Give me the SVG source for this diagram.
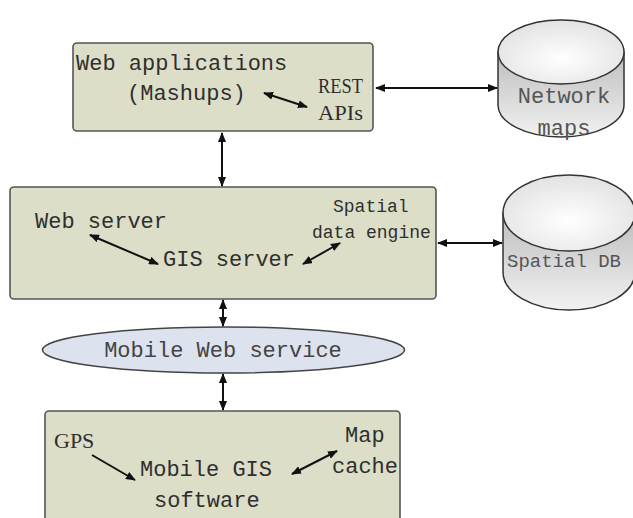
<svg xmlns="http://www.w3.org/2000/svg" width="633" height="518" viewBox="0 0 633 518">
  <defs>
    <marker id="arr" viewBox="0 0 10 8" refX="9" refY="4" markerWidth="10" markerHeight="8" markerUnits="userSpaceOnUse" orient="auto-start-reverse">
      <path d="M0,0 L10,4 L0,8 z" fill="#111"/>
    </marker>
    <linearGradient id="side" x1="0" y1="0" x2="0" y2="1">
      <stop offset="0" stop-color="#bdbdbd"/>
      <stop offset="1" stop-color="#f2f2f2"/>
    </linearGradient>
    <radialGradient id="lid" cx="0.5" cy="0.6" r="0.6">
      <stop offset="0" stop-color="#ffffff"/>
      <stop offset="1" stop-color="#e2e2e2"/>
    </radialGradient>
    <style>
      .box { fill: #dcdec8; stroke: #555; stroke-width: 1.6; }
      .mono { font-family: "Liberation Mono", "DejaVu Sans Mono", monospace; font-size: 22px; fill: #2f2f2f; }
      .small { font-size: 18px; }
      .serif { font-family: "Liberation Serif", "DejaVu Serif", serif; font-size: 22px; fill: #2f2f2f; }
      .cyl { stroke: #333; stroke-width: 1.5; }
      .cyltext { font-family: "Liberation Mono", "DejaVu Sans Mono", monospace; font-size: 22px; fill: #555; }
      .dbtext { font-size: 19px; }
      .link { stroke: #111; stroke-width: 2; fill: none; }
    </style>
  </defs>

  <g id="web-applications">
    <rect class="box" x="73" y="43" width="300" height="88" rx="4"/>
    <text class="mono" x="76" y="70">Web applications</text>
    <text class="mono" x="127" y="100">(Mashups)</text>
    <text class="serif" x="318" y="93" textLength="45" lengthAdjust="spacingAndGlyphs">REST</text>
    <text class="serif" x="318" y="120" textLength="45" lengthAdjust="spacingAndGlyphs">APIs</text>
  </g>

  <g id="network-maps">
    <path class="cyl" d="M498,52 L498,105 A63,32 0 0 0 624,105 L624,52 z" fill="url(#side)"/>
    <ellipse class="cyl" cx="561" cy="52" rx="63" ry="32" fill="url(#lid)"/>
    <text class="cyltext" x="564" y="103" text-anchor="middle">Network</text>
    <text class="cyltext" x="564" y="135" text-anchor="middle">maps</text>
  </g>

  <g id="server-tier">
    <rect class="box" x="10" y="187" width="426" height="112" rx="4"/>
    <text class="mono" x="35" y="228">Web server</text>
    <text class="mono" x="163" y="266">GIS server</text>
    <text class="mono small" x="333" y="212">Spatial</text>
    <text class="mono small" x="312" y="238">data engine</text>
  </g>

  <g id="spatial-db">
    <path class="cyl" d="M503,213 L503,272 A66,38 0 0 0 635,272 L635,213 z" fill="url(#side)"/>
    <ellipse class="cyl" cx="569" cy="213" rx="66" ry="38" fill="url(#lid)"/>
    <text class="cyltext dbtext" x="507" y="267">Spatial DB</text>
  </g>

  <g id="mobile-web-service">
    <ellipse cx="223.5" cy="350" rx="181" ry="23" fill="#dde3ee" stroke="#444" stroke-width="1.5"/>
    <text class="mono" x="223" y="357" text-anchor="middle" style="fill:#444">Mobile Web service</text>
  </g>

  <g id="mobile-client">
    <rect class="box" x="45" y="411" width="355" height="125" rx="4"/>
    <text class="serif" x="54" y="448">GPS</text>
    <text class="mono" x="140" y="476">Mobile GIS</text>
    <text class="mono" x="154" y="507">software</text>
    <text class="mono" x="345" y="442">Map</text>
    <text class="mono" x="332" y="473">cache</text>
  </g>

  <g id="connectors">
    <line class="link" x1="264" y1="93" x2="307" y2="107" marker-start="url(#arr)" marker-end="url(#arr)"/>
    <line class="link" x1="376" y1="88" x2="497" y2="88" marker-start="url(#arr)" marker-end="url(#arr)"/>
    <line class="link" x1="222" y1="133" x2="222" y2="186" marker-start="url(#arr)" marker-end="url(#arr)"/>
    <line class="link" x1="90" y1="235" x2="158" y2="264" marker-start="url(#arr)" marker-end="url(#arr)"/>
    <line class="link" x1="303" y1="264" x2="340" y2="243" marker-start="url(#arr)" marker-end="url(#arr)"/>
    <line class="link" x1="438" y1="243" x2="502" y2="243" marker-start="url(#arr)" marker-end="url(#arr)"/>
    <line class="link" x1="223" y1="300" x2="223" y2="326" marker-start="url(#arr)" marker-end="url(#arr)"/>
    <line class="link" x1="223" y1="374" x2="223" y2="410" marker-start="url(#arr)" marker-end="url(#arr)"/>
    <line class="link" x1="92" y1="455" x2="135" y2="480" marker-end="url(#arr)"/>
    <line class="link" x1="292" y1="474" x2="337" y2="451" marker-start="url(#arr)" marker-end="url(#arr)"/>
  </g>
</svg>
